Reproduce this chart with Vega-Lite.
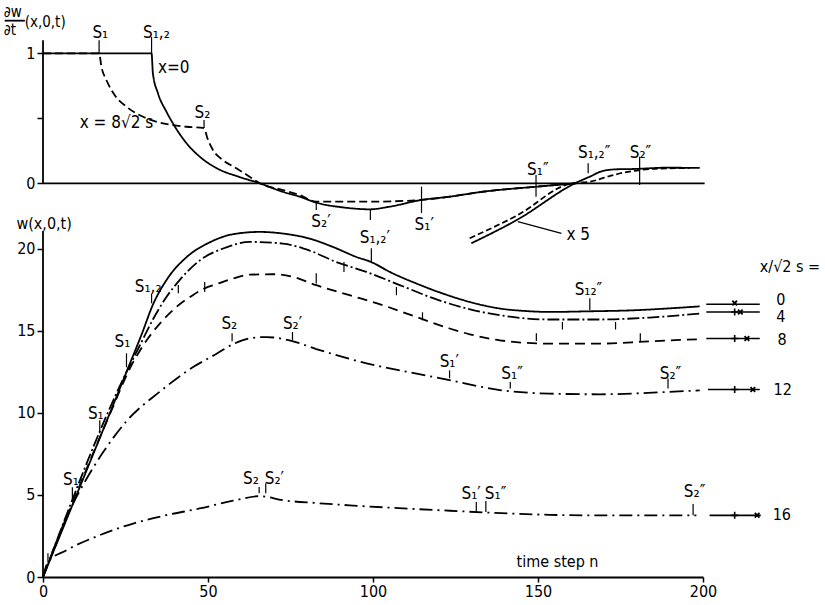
{
  "$schema": "https://vega.github.io/schema/vega-lite/v6.json",
  "width": 660,
  "height": 557,
  "autosize": {"type": "none"},
  "padding": {"left": 43, "top": 20, "right": 122, "bottom": 28},
  "background": "white",
  "config": {
    "view": {"stroke": null},
    "font": "DejaVu Sans Condensed, DejaVu Sans",
    "text": {"font": "DejaVu Sans Condensed, DejaVu Sans", "color": "black"}
  },
  "datasets": {
    "topLines": [
      {"series": "x8", "t": 0, "v": 1}, {"series": "x8", "t": 17, "v": 1}, {"series": "x8", "t": 17.7, "v": 0.897}, {"series": "x8", "t": 19.2, "v": 0.795}, {"series": "x8", "t": 21.7, "v": 0.679}, {"series": "x8", "t": 25.3, "v": 0.589}, {"series": "x8", "t": 30.3, "v": 0.512}, {"series": "x8", "t": 35.4, "v": 0.466}, {"series": "x8", "t": 39.4, "v": 0.448}, {"series": "x8", "t": 43.5, "v": 0.435}, {"series": "x8", "t": 48.8, "v": 0.425}, {"series": "x8", "t": 49.8, "v": 0.348}, {"series": "x8", "t": 51.5, "v": 0.256}, {"series": "x8", "t": 54.5, "v": 0.179}, {"series": "x8", "t": 58.6, "v": 0.115}, {"series": "x8", "t": 62.6, "v": 0.051}, {"series": "x8", "t": 65.7, "v": 0}, {"series": "x8", "t": 72.7, "v": -0.052}, {"series": "x8", "t": 77.8, "v": -0.09}, {"series": "x8", "t": 82.8, "v": -0.1415}, {"series": "x8", "t": 86.9, "v": -0.1415}, {"series": "x8", "t": 99, "v": -0.1415}, {"series": "x8", "t": 114.7, "v": -0.128}, {"series": "x8", "t": 123.2, "v": -0.103}, {"series": "x8", "t": 133.2, "v": -0.065}, {"series": "x8", "t": 149.5, "v": -0.026}, {"series": "x8", "t": 161.6, "v": 0},
      {"series": "x0", "t": 0, "v": 1}, {"series": "x0", "t": 32.9, "v": 1}, {"series": "x0", "t": 33.3, "v": 0.846}, {"series": "x0", "t": 34.85, "v": 0.692}, {"series": "x0", "t": 37.4, "v": 0.551}, {"series": "x0", "t": 39.3, "v": 0.464}, {"series": "x0", "t": 43.5, "v": 0.308}, {"series": "x0", "t": 47.5, "v": 0.205}, {"series": "x0", "t": 52.5, "v": 0.118}, {"series": "x0", "t": 59.6, "v": 0.048}, {"series": "x0", "t": 65.7, "v": 0}, {"series": "x0", "t": 72.6, "v": -0.065}, {"series": "x0", "t": 77.8, "v": -0.103}, {"series": "x0", "t": 82.8, "v": -0.149}, {"series": "x0", "t": 90.8, "v": -0.185}, {"series": "x0", "t": 99, "v": -0.2}, {"series": "x0", "t": 105, "v": -0.18}, {"series": "x0", "t": 114.7, "v": -0.128}, {"series": "x0", "t": 123.2, "v": -0.103}, {"series": "x0", "t": 133.2, "v": -0.065}, {"series": "x0", "t": 149.5, "v": -0.026}, {"series": "x0", "t": 161.6, "v": 0},
      {"series": "x0x5", "t": 129.8, "v": -0.4615}, {"series": "x0x5", "t": 143.8, "v": -0.279}, {"series": "x0x5", "t": 161.6, "v": 0.005}, {"series": "x0x5", "t": 165.7, "v": 0.051}, {"series": "x0x5", "t": 169.6, "v": 0.095}, {"series": "x0x5", "t": 174, "v": 0.108}, {"series": "x0x5", "t": 178.8, "v": 0.11}, {"series": "x0x5", "t": 188.9, "v": 0.12}, {"series": "x0x5", "t": 199, "v": 0.118},
      {"series": "x8x5", "t": 129.3, "v": -0.423}, {"series": "x8x5", "t": 143.8, "v": -0.245}, {"series": "x8x5", "t": 160.2, "v": 0}, {"series": "x8x5", "t": 165.7, "v": 0.012}, {"series": "x8x5", "t": 171.7, "v": 0.056}, {"series": "x8x5", "t": 175.8, "v": 0.0815}, {"series": "x8x5", "t": 180.8, "v": 0.102}, {"series": "x8x5", "t": 188.9, "v": 0.115}, {"series": "x8x5", "t": 196, "v": 0.118}
    ],
    "topTicks": [
      {"t": 17, "t2": 17, "v": 1, "v2": 1.1}, {"t": 32.9, "t2": 32.9, "v": 1, "v2": 1.125}, {"t": 48.8, "t2": 48.8, "v": 0.425, "v2": 0.487}, {"t": 82.8, "t2": 82.8, "v": -0.152, "v2": -0.205}, {"t": 99.2, "t2": 99.2, "v": -0.205, "v2": -0.282}, {"t": 114.7, "t2": 114.7, "v": -0.026, "v2": -0.228}, {"t": 149.4, "t2": 149.4, "v": 0.064, "v2": -0.103}, {"t": 165.2, "t2": 165.2, "v": 0.154, "v2": 0.077}, {"t": 180.8, "t2": 180.8, "v": 0.205, "v2": -0.013},
      {"t": 143.9, "t2": 157.1, "v": -0.295, "v2": -0.385}
    ],
    "topFrame": [
      {"t": 0, "t2": 0, "v": 0, "v2": 1.1}, {"t": 0, "t2": 200.5, "v": 0, "v2": 0}, {"t": -11.6, "t2": -5.5, "v": 1.251, "v2": 1.251}
    ],
    "topLabels": [
      {"t": 14.97, "v": 1.118, "label": "S₁"}, {"t": 30.3, "v": 1.118, "label": "S₁,₂"}, {"t": 34.85, "v": 0.851, "label": "x=0"}, {"t": 11.12, "v": 0.425, "label": "x = 8√2 s"}, {"t": 45.9, "v": 0.502, "label": "S₂"}, {"t": 81.3, "v": -0.334, "label": "S₂′"}, {"t": 95.96, "v": -0.459, "label": "S₁,₂′"}, {"t": 112.6, "v": -0.359, "label": "S₁′"}, {"t": 146.7, "v": 0.064, "label": "S₁″"}, {"t": 162.1, "v": 0.192, "label": "S₁,₂″"}, {"t": 177.8, "v": 0.192, "label": "S₂″"}, {"t": 158.6, "v": -0.436, "label": "x 5"}
    ],
    "topTitle": [
      {"t": -11.9, "v": 1.28, "label": "∂w"}, {"t": -11.9, "v": 1.138, "label": "∂t"}, {"t": -5.55, "v": 1.202, "label": "(x,0,t)"}
    ],
    "lowLines": [
      {"series": "x16", "t": 0, "w": 0}, {"series": "x16", "t": 1.5, "w": 0.91}, {"series": "x16", "t": 7.1, "w": 1.63}, {"series": "x16", "t": 17.2, "w": 2.55}, {"series": "x16", "t": 27.3, "w": 3.26}, {"series": "x16", "t": 37.4, "w": 3.77}, {"series": "x16", "t": 47.5, "w": 4.18}, {"series": "x16", "t": 57.6, "w": 4.65}, {"series": "x16", "t": 65.7, "w": 4.93}, {"series": "x16", "t": 72.7, "w": 4.68}, {"series": "x16", "t": 82.8, "w": 4.51}, {"series": "x16", "t": 92.9, "w": 4.37}, {"series": "x16", "t": 103, "w": 4.25}, {"series": "x16", "t": 113.2, "w": 4.14}, {"series": "x16", "t": 123.3, "w": 4.04}, {"series": "x16", "t": 133.3, "w": 3.94}, {"series": "x16", "t": 143.5, "w": 3.86}, {"series": "x16", "t": 153.5, "w": 3.79}, {"series": "x16", "t": 167.9, "w": 3.76}, {"series": "x16", "t": 198, "w": 3.76},
      {"series": "x12", "t": 0, "w": 0}, {"series": "x12", "t": 8.9, "w": 4.4}, {"series": "x12", "t": 12.1, "w": 5.6}, {"series": "x12", "t": 18.2, "w": 7.6}, {"series": "x12", "t": 25.3, "w": 9.5}, {"series": "x12", "t": 35.4, "w": 11.3}, {"series": "x12", "t": 45.5, "w": 12.8}, {"series": "x12", "t": 52.5, "w": 13.6}, {"series": "x12", "t": 57.6, "w": 14.2}, {"series": "x12", "t": 62.6, "w": 14.55}, {"series": "x12", "t": 67.7, "w": 14.63}, {"series": "x12", "t": 74.7, "w": 14.43}, {"series": "x12", "t": 82.8, "w": 13.9}, {"series": "x12", "t": 92.9, "w": 13.3}, {"series": "x12", "t": 103, "w": 12.8}, {"series": "x12", "t": 113.2, "w": 12.4}, {"series": "x12", "t": 123.2, "w": 12.0}, {"series": "x12", "t": 138.4, "w": 11.4}, {"series": "x12", "t": 153.5, "w": 11.18}, {"series": "x12", "t": 168.7, "w": 11.14}, {"series": "x12", "t": 188.9, "w": 11.28}, {"series": "x12", "t": 199, "w": 11.38},
      {"series": "x8", "t": 0, "w": 0}, {"series": "x8", "t": 17.2, "w": 8.5}, {"series": "x8", "t": 20.2, "w": 9.9}, {"series": "x8", "t": 26.8, "w": 12.9}, {"series": "x8", "t": 31.3, "w": 14.4}, {"series": "x8", "t": 35.4, "w": 15.45}, {"series": "x8", "t": 40.4, "w": 16.46}, {"series": "x8", "t": 45.5, "w": 17.2}, {"series": "x8", "t": 49, "w": 17.6}, {"series": "x8", "t": 52.5, "w": 17.85}, {"series": "x8", "t": 57.6, "w": 18.2}, {"series": "x8", "t": 62.6, "w": 18.43}, {"series": "x8", "t": 69.7, "w": 18.46}, {"series": "x8", "t": 75.8, "w": 18.3}, {"series": "x8", "t": 82.8, "w": 17.79}, {"series": "x8", "t": 92.9, "w": 17.18}, {"series": "x8", "t": 103, "w": 16.57}, {"series": "x8", "t": 113.2, "w": 15.85}, {"series": "x8", "t": 123.2, "w": 15.15}, {"series": "x8", "t": 129.3, "w": 14.8}, {"series": "x8", "t": 138.4, "w": 14.43}, {"series": "x8", "t": 153.5, "w": 14.23}, {"series": "x8", "t": 168.7, "w": 14.23}, {"series": "x8", "t": 183.8, "w": 14.37}, {"series": "x8", "t": 199, "w": 14.5},
      {"series": "x4", "t": 0, "w": 0}, {"series": "x4", "t": 25.3, "w": 12.5}, {"series": "x4", "t": 29.3, "w": 14.1}, {"series": "x4", "t": 33.3, "w": 15.7}, {"series": "x4", "t": 37.4, "w": 17.07}, {"series": "x4", "t": 41.4, "w": 18.1}, {"series": "x4", "t": 47.5, "w": 19.3}, {"series": "x4", "t": 55.6, "w": 20.1}, {"series": "x4", "t": 62.6, "w": 20.43}, {"series": "x4", "t": 72.7, "w": 20.33}, {"series": "x4", "t": 80.8, "w": 19.9}, {"series": "x4", "t": 88.9, "w": 19.2}, {"series": "x4", "t": 98, "w": 18.6}, {"series": "x4", "t": 108.1, "w": 17.8}, {"series": "x4", "t": 118.2, "w": 17.0}, {"series": "x4", "t": 128.3, "w": 16.37}, {"series": "x4", "t": 138.4, "w": 15.96}, {"series": "x4", "t": 153.5, "w": 15.7}, {"series": "x4", "t": 168.7, "w": 15.7}, {"series": "x4", "t": 183.8, "w": 15.82}, {"series": "x4", "t": 199, "w": 16.06},
      {"series": "x0", "t": 0, "w": 0}, {"series": "x0", "t": 25.3, "w": 12.5}, {"series": "x0", "t": 30, "w": 14.85}, {"series": "x0", "t": 33.3, "w": 16.6}, {"series": "x0", "t": 37.4, "w": 18.1}, {"series": "x0", "t": 43.5, "w": 19.5}, {"series": "x0", "t": 50.5, "w": 20.4}, {"series": "x0", "t": 57.6, "w": 20.9}, {"series": "x0", "t": 65.7, "w": 21.04}, {"series": "x0", "t": 72.7, "w": 20.94}, {"series": "x0", "t": 80.8, "w": 20.63}, {"series": "x0", "t": 87.9, "w": 20.12}, {"series": "x0", "t": 95, "w": 19.51}, {"series": "x0", "t": 99.5, "w": 19.2}, {"series": "x0", "t": 105.1, "w": 18.6}, {"series": "x0", "t": 113.2, "w": 17.89}, {"series": "x0", "t": 121.2, "w": 17.28}, {"series": "x0", "t": 129.3, "w": 16.77}, {"series": "x0", "t": 138.4, "w": 16.37}, {"series": "x0", "t": 146, "w": 16.22}, {"series": "x0", "t": 153.5, "w": 16.16}, {"series": "x0", "t": 165.7, "w": 16.2}, {"series": "x0", "t": 178.8, "w": 16.26}, {"series": "x0", "t": 190, "w": 16.38}, {"series": "x0", "t": 199, "w": 16.5}
    ],
    "legendLines": [
      {"series": "0", "t": 201, "w": 16.63}, {"series": "0", "t": 217.2, "w": 16.63},
      {"series": "4", "t": 201, "w": 16.16}, {"series": "4", "t": 217.2, "w": 16.16},
      {"series": "8", "t": 201, "w": 14.54}, {"series": "8", "t": 217.2, "w": 14.54},
      {"series": "12", "t": 201.5, "w": 11.43}, {"series": "12", "t": 217.2, "w": 11.43},
      {"series": "16", "t": 202, "w": 3.76}, {"series": "16", "t": 217.5, "w": 3.76}
    ],
    "plusMarks": [
      {"t": 209.6, "w": 16.16}, {"t": 209.6, "w": 14.54}, {"t": 209.6, "w": 11.43}, {"t": 209.6, "w": 3.76}
    ],
    "crossMarks": [
      {"t": 209.6, "w": 16.7}, {"t": 211.3, "w": 16.16}, {"t": 213.3, "w": 14.54}, {"t": 215.1, "w": 11.43}, {"t": 216.4, "w": 3.76}
    ],
    "lowTicks": [
      {"t": 32.9, "w": 16.69, "w2": 17.28}, {"t": 99.5, "w": 19.2, "w2": 20.04}, {"t": 165.7, "w": 16.26, "w2": 17.0},
      {"t": 25.3, "w": 12.79, "w2": 13.64}, {"t": 41.0, "w": 17.3, "w2": 17.8}, {"t": 91.2, "w": 18.6, "w2": 19.2}, {"t": 107.1, "w": 17.18, "w2": 17.68}, {"t": 157.4, "w": 15.09, "w2": 15.55}, {"t": 173.5, "w": 15.09, "w2": 15.55},
      {"t": 17.2, "w": 8.76, "w2": 9.55}, {"t": 49, "w": 17.38, "w2": 17.99}, {"t": 82.8, "w": 17.9, "w2": 18.52}, {"t": 115, "w": 15.65, "w2": 16.14}, {"t": 149.5, "w": 14.39, "w2": 14.86}, {"t": 181, "w": 14.39, "w2": 14.86},
      {"t": 8.9, "w": 4.68, "w2": 5.47}, {"t": 57.3, "w": 14.37, "w2": 14.86}, {"t": 75.6, "w": 14.43, "w2": 14.94}, {"t": 123.2, "w": 12.12, "w2": 12.6}, {"t": 141.6, "w": 11.5, "w2": 11.89}, {"t": 189.4, "w": 11.5, "w2": 12.1},
      {"t": 1.5, "w": 0.9, "w2": 1.45}, {"t": 65.5, "w": 5.1, "w2": 5.49}, {"t": 67.5, "w": 5.1, "w2": 5.71}, {"t": 131.3, "w": 3.96, "w2": 4.57}, {"t": 134.2, "w": 3.96, "w2": 4.63}, {"t": 197, "w": 3.76, "w2": 4.45}
    ],
    "lowFrame": [
      {"t": 0, "w": 0, "w2": 21.1}
    ],
    "lowLabels": [
      {"t": 27.8, "w": 17.38, "label": "S₁,₂"}, {"t": 21.7, "w": 14.02, "label": "S₁"}, {"t": 13.6, "w": 9.66, "label": "S₁"}, {"t": 6.06, "w": 5.59, "label": "S₁"},
      {"t": 54.06, "w": 15.1, "label": "S₂"}, {"t": 72.7, "w": 15.1, "label": "S₂′"}, {"t": 120.2, "w": 12.8, "label": "S₁′"}, {"t": 138.9, "w": 12.1, "label": "S₁″"}, {"t": 186.9, "w": 12.1, "label": "S₂″"}, {"t": 161.1, "w": 17.18, "label": "S₁₂″"},
      {"t": 60.6, "w": 5.7, "label": "S₂"}, {"t": 67.2, "w": 5.7, "label": "S₂′"}, {"t": 126.8, "w": 4.78, "label": "S₁′"}, {"t": 133.9, "w": 4.78, "label": "S₁″"}, {"t": 194.2, "w": 4.88, "label": "S₂″"}
    ],
    "lowTexts": [
      {"t": -8.06, "w": 21.2, "label": "w(x,0,t)"}, {"t": 217.2, "w": 18.58, "label": "x/√2 s ="},
      {"t": 222.2, "w": 16.57, "label": "0"}, {"t": 222.2, "w": 15.53, "label": "4"}, {"t": 222.6, "w": 14.13, "label": "8"}, {"t": 221.4, "w": 11.08, "label": "12"}, {"t": 221.1, "w": 3.46, "label": "16"},
      {"t": 143.5, "w": 0.59, "label": "time step  n"}
    ]
  },
  "layer": [
    {
      "encoding": {
        "x": {"field": "t", "type": "quantitative", "scale": {"domain": [0, 200], "nice": false, "zero": false},
          "axis": {"values": [0, 50, 100, 150, 200], "title": null, "grid": false, "domain": true, "domainColor": "black", "domainWidth": 1.8, "tickColor": "black", "tickWidth": 1.5, "tickSize": 5, "labelFontSize": 16, "labelColor": "black", "labelPadding": 1, "labelFont": "DejaVu Sans Condensed, DejaVu Sans", "labelFlush": false}},
        "y": {"field": "v", "type": "quantitative", "scale": {"domain": [-3.0285, 1.2562], "nice": false, "zero": false},
          "axis": {"orient": "left", "values": [0, 0.5, 1], "format": "~g", "labelExpr": "datum.value == 0.5 ? '' : datum.label", "title": null, "grid": false, "domain": false, "tickColor": "black", "tickWidth": 1.5, "tickSize": 6, "labelFontSize": 16, "labelColor": "black", "labelPadding": 2, "labelFont": "DejaVu Sans Condensed, DejaVu Sans"}}
      },
      "layer": [
        {
          "data": {"name": "topLines"},
          "mark": {"type": "line", "color": "black", "strokeWidth": 1.8, "interpolate": "monotone"},
          "encoding": {
            "strokeDash": {"field": "series", "type": "nominal", "legend": null,
              "scale": {"domain": ["x0", "x8", "x0x5", "x8x5"], "range": [[1, 0], [8, 4], [1, 0], [6, 3]]}}
          }
        },
        {
          "data": {"name": "topTicks"},
          "mark": {"type": "rule", "color": "black", "strokeWidth": 1.2},
          "encoding": {"x2": {"field": "t2"}, "y2": {"field": "v2"}}
        },
        {
          "data": {"name": "topFrame"},
          "mark": {"type": "rule", "color": "black", "strokeWidth": 1.8},
          "encoding": {"x2": {"field": "t2"}, "y2": {"field": "v2"}}
        },
        {
          "data": {"name": "topLabels"},
          "mark": {"type": "text", "align": "left", "baseline": "alphabetic", "fontSize": 17},
          "encoding": {"text": {"field": "label"}}
        },
        {
          "data": {"name": "topTitle"},
          "mark": {"type": "text", "align": "left", "baseline": "alphabetic", "fontSize": 15},
          "encoding": {"text": {"field": "label"}}
        }
      ]
    },
    {
      "encoding": {
        "x": {"field": "t", "type": "quantitative", "scale": {"domain": [0, 200], "nice": false, "zero": false},
          "axis": {"values": [0, 50, 100, 150, 200], "title": null, "grid": false, "domain": true, "domainColor": "black", "domainWidth": 1.8, "tickColor": "black", "tickWidth": 1.5, "tickSize": 5, "labelFontSize": 16, "labelColor": "black", "labelPadding": 1, "labelFont": "DejaVu Sans Condensed, DejaVu Sans", "labelFlush": false}},
        "y": {"field": "w", "type": "quantitative", "scale": {"domain": [0, 33.96], "nice": false, "zero": false},
          "axis": {"orient": "left", "values": [0, 5, 10, 15, 20], "title": null, "grid": false, "domain": false, "tickColor": "black", "tickWidth": 1.5, "tickSize": 6, "labelFontSize": 16, "labelColor": "black", "labelPadding": 2, "labelFont": "DejaVu Sans Condensed, DejaVu Sans"}}
      },
      "layer": [
        {
          "data": {"name": "lowLines"},
          "mark": {"type": "line", "color": "black", "strokeWidth": 1.8, "interpolate": "monotone"},
          "encoding": {
            "strokeDash": {"field": "series", "type": "nominal", "legend": null,
              "scale": {"domain": ["x0", "x4", "x8", "x12", "x16"], "range": [[1, 0], [12, 3, 2, 3], [10, 6], [14, 5, 2, 5], [13, 5, 2, 5]]}}
          }
        },
        {
          "data": {"name": "legendLines"},
          "mark": {"type": "line", "color": "black", "strokeWidth": 1.6},
          "encoding": {"detail": {"field": "series", "type": "nominal"}}
        },
        {
          "data": {"name": "plusMarks"},
          "mark": {"type": "point", "shape": "M-1,0L1,0M0,-1L0,1", "size": 50, "filled": false, "stroke": "black", "strokeWidth": 1.6, "opacity": 1}
        },
        {
          "data": {"name": "crossMarks"},
          "mark": {"type": "point", "shape": "M-1,-1L1,1M-1,1L1,-1", "size": 22, "filled": false, "stroke": "black", "strokeWidth": 1.8, "opacity": 1}
        },
        {
          "data": {"name": "lowTicks"},
          "mark": {"type": "rule", "color": "black", "strokeWidth": 1.2},
          "encoding": {"y2": {"field": "w2"}}
        },
        {
          "data": {"name": "lowFrame"},
          "mark": {"type": "rule", "color": "black", "strokeWidth": 1.8},
          "encoding": {"y2": {"field": "w2"}}
        },
        {
          "data": {"name": "lowLabels"},
          "mark": {"type": "text", "align": "left", "baseline": "alphabetic", "fontSize": 17},
          "encoding": {"text": {"field": "label"}}
        },
        {
          "data": {"name": "lowTexts"},
          "mark": {"type": "text", "align": "left", "baseline": "alphabetic", "fontSize": 16},
          "encoding": {"text": {"field": "label"}}
        }
      ]
    }
  ],
  "resolve": {"scale": {"y": "independent", "strokeDash": "independent"}, "axis": {"y": "independent"}}
}
